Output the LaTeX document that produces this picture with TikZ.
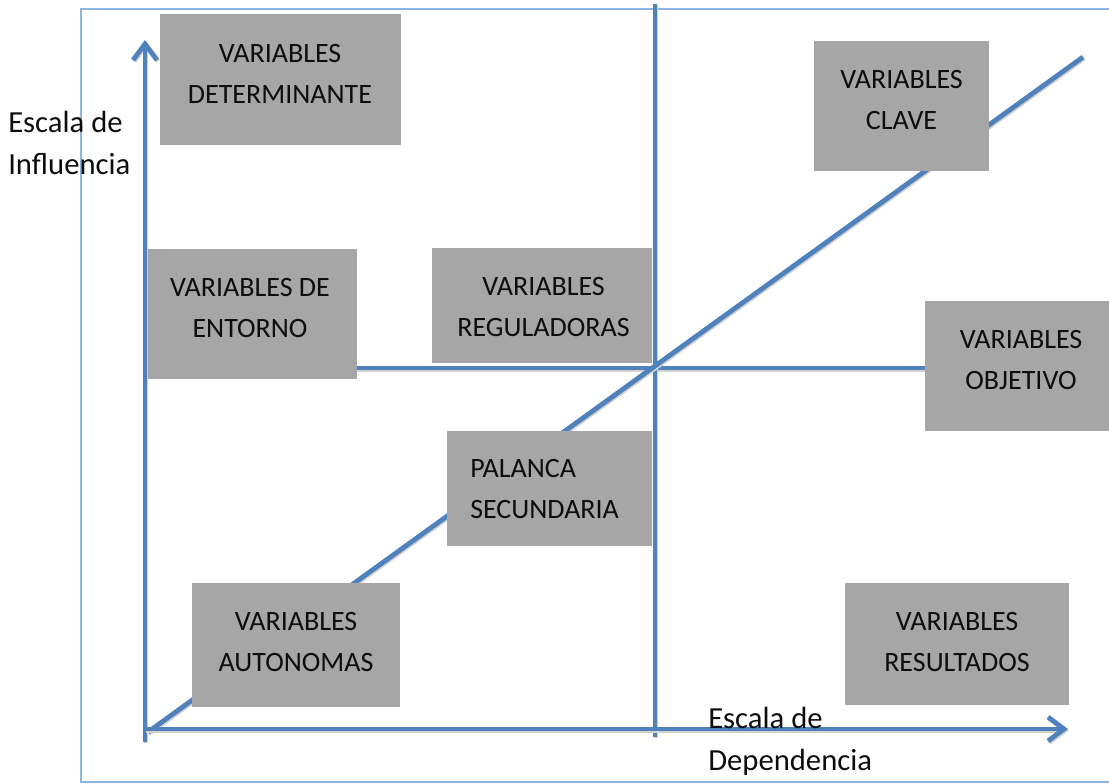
\documentclass[tikz,border=0pt]{standalone}
\usepackage{fontspec}
\setmainfont{Carlito}
\usetikzlibrary{arrows.meta}
\definecolor{axblue}{HTML}{4F81BD}
\definecolor{frameblue}{HTML}{8EB4E3}
\definecolor{boxgray}{HTML}{A6A6A6}
\definecolor{txtcol}{HTML}{0D0D0D}
\begin{document}
\begin{tikzpicture}[x=0.75pt,y=-0.75pt,
  frameline/.style={draw=frameblue, line width=1.1pt},
  axisline/.style={draw=axblue, line width=3.6pt,
    preaction={draw=black!18, line width=3.6pt, transform canvas={shift={(0.8pt,-1pt)}}}},
  axisarrow/.style={axisline, -{Straight Barb[length=12pt,width=18pt,line width=3.6pt]}},
  gbox/.style={fill=boxgray, draw=none, inner sep=0pt},
  btext/.style={text=txtcol, inner sep=0pt, align=center, font=\fontsize{21}{30.75}\selectfont},
  ltext/.style={text=txtcol, inner sep=0pt, align=left, anchor=west, font=\fontsize{23}{31.5}\selectfont}
]
\useasboundingbox (0,0) rectangle (1109,783);
% frame
\coordinate (fTR) at (1109,9);
\coordinate (fTL) at (81,9);
\coordinate (fBL) at (81,782);
\coordinate (fBR) at (1109,782);
\draw[frameline] (fTR) -- (fTL) -- (fBL) -- (fBR);
% coordinates of lines
\coordinate (vbot) at (145,742);
\coordinate (vtop) at (145,40);
\coordinate (hleft) at (145,729);
\coordinate (hright) at (1068,729);
\coordinate (d0) at (148,732);
\coordinate (d1) at (1083,57);
\coordinate (mtop) at (655,4);
\coordinate (mbot) at (655,737);
\coordinate (mleft) at (145,368);
\coordinate (mright) at (925,368);
% lines
\draw[axisline] (mleft) -- (mright);
\draw[axisline] (mtop) -- (mbot);
\draw[axisline] (d0) -- (d1);
\draw[axisarrow] (vbot) -- (vtop);
\draw[axisarrow] (hleft) -- (hright);
% boxes
\node[gbox, minimum width=241*0.75pt, minimum height=131*0.75pt] (det) at (280.5,79.5) {};
\node[gbox, minimum width=175*0.75pt, minimum height=130*0.75pt] (clave) at (901.5,106) {};
\node[gbox, minimum width=209*0.75pt, minimum height=130*0.75pt] (ent) at (252.5,314) {};
\node[gbox, minimum width=220*0.75pt, minimum height=115*0.75pt] (reg) at (542,305.5) {};
\node[gbox, minimum width=190*0.75pt, minimum height=130*0.75pt] (obj) at (1020,366) {};
\node[gbox, minimum width=205*0.75pt, minimum height=115*0.75pt] (pal) at (549.5,488.5) {};
\node[gbox, minimum width=208*0.75pt, minimum height=124*0.75pt] (aut) at (296,645) {};
\node[gbox, minimum width=224*0.75pt, minimum height=122*0.75pt] (res) at (957,644) {};
% box texts
\node[btext] (detT) at (280,74) {VARIABLES\\DETERMINANTE};
\node[btext] (claveT) at (901.5,100.5) {VARIABLES\\CLAVE};
\node[btext] (entT) at (250,307.5) {VARIABLES DE\\ENTORNO};
\node[btext] (regT) at (543.5,307.5) {VARIABLES\\REGULADORAS};
\node[btext] (objT) at (1021,360) {VARIABLES\\OBJETIVO};
\node[btext, align=left, anchor=west] (palT) at (470,489.5) {PALANCA\\SECUNDARIA};
\node[btext] (autT) at (296,642.5) {VARIABLES\\AUTONOMAS};
\node[btext] (resT) at (957,642.5) {VARIABLES\\RESULTADOS};
% axis labels
\node[ltext] (yl) at (8,143) {Escala de\\Influencia};
\node[ltext] (xl) at (708,741) {Escala de\\Dependencia};
\end{tikzpicture}
\end{document}
